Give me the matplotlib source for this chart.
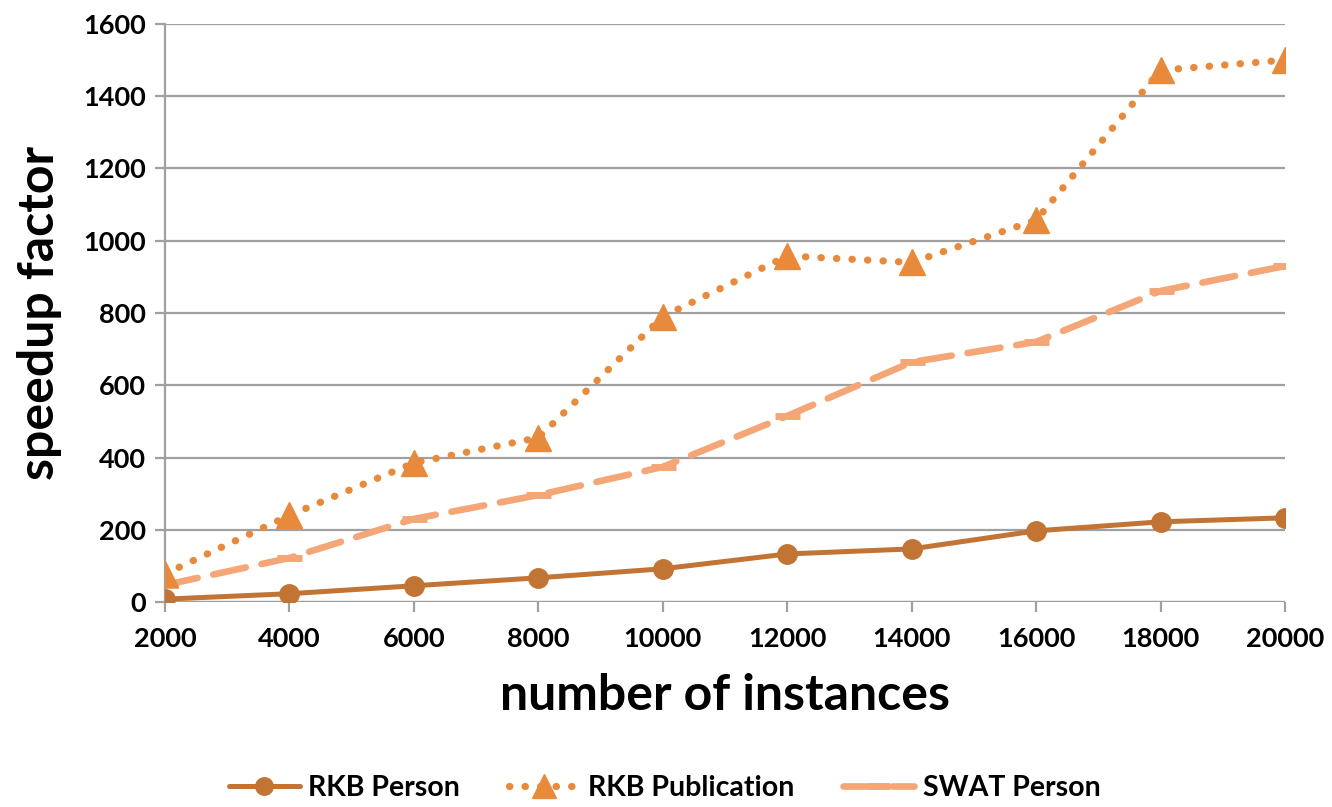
import matplotlib
matplotlib.use("Agg")
import matplotlib.pyplot as plt
from matplotlib.ticker import MultipleLocator

plt.rcParams['font.family'] = ['Lato', 'DejaVu Sans']
plt.rcParams['font.weight'] = 'bold'

instances = [2000, 4000, 6000, 8000, 10000, 12000, 14000, 16000, 18000, 20000]
rkb_person = [8, 23, 45, 67, 92, 133, 147, 197, 222, 233]
rkb_publication = [78, 240, 385, 455, 790, 958, 940, 1057, 1472, 1500]
swat_person = [47, 122, 230, 296, 374, 515, 664, 720, 861, 930]

series_names = ["RKB Person", "RKB Publication", "SWAT Person"]
colors = ["#C27434", "#E88A3C", "#F5A676"]

fig = plt.figure(figsize=(13.32, 8.07), dpi=100)
ax = fig.add_axes([0.1239, 0.254, 0.8408, 0.7163])

ax.plot(instances, rkb_person, color=colors[0], lw=3.6, marker='o', ms=14,
        solid_capstyle='round', label=series_names[0], zorder=3)
ax.plot(instances, rkb_publication, color=colors[1], lw=5.2, marker='^', ms=19,
        linestyle=(0, (0.05, 2.1)), dash_capstyle='round', label=series_names[1], zorder=4)
ax.plot(instances, swat_person, color=colors[2], lw=4.8, marker='_', ms=18, mew=5,
        linestyle=(0, (5.0, 2.4)), dash_capstyle='round', label=series_names[2], zorder=2)

ax.set_xlim(2000, 20000)
ax.set_ylim(0, 1600)
ax.xaxis.set_major_locator(MultipleLocator(2000))
ax.yaxis.set_major_locator(MultipleLocator(200))
ax.grid(axis='y', color='#A0A0A0', lw=1.6, zorder=0)
for s in ['top', 'right', 'bottom']:
    ax.spines[s].set_visible(False)
ax.spines['left'].set_color('#A0A0A0')
ax.spines['left'].set_linewidth(1.6)
ax.axhline(0, color='#A0A0A0', lw=1.6, zorder=1)
ax.tick_params(axis='y', length=7, width=1.6, color='#A0A0A0', labelsize=19.5, pad=7)
ax.tick_params(axis='x', length=7, width=1.6, color='#A0A0A0', labelsize=19.5, pad=11)
for lab in ax.get_xticklabels() + ax.get_yticklabels():
    lab.set_fontweight('bold')

ax.set_xlabel("number of instances", fontsize=36, fontweight='bold', labelpad=16)
ax.set_ylabel("speedup factor", fontsize=36, fontweight='bold', labelpad=15)

leg = fig.legend(loc='lower center', bbox_to_anchor=(0.499, -0.024), ncol=3, frameon=False,
                 fontsize=20.5, handlelength=2.5, columnspacing=1.7, handletextpad=0.3,
                 markerscale=0.9)
for t in leg.get_texts():
    t.set_fontweight('bold')

fig.savefig("out.png", dpi=100)
